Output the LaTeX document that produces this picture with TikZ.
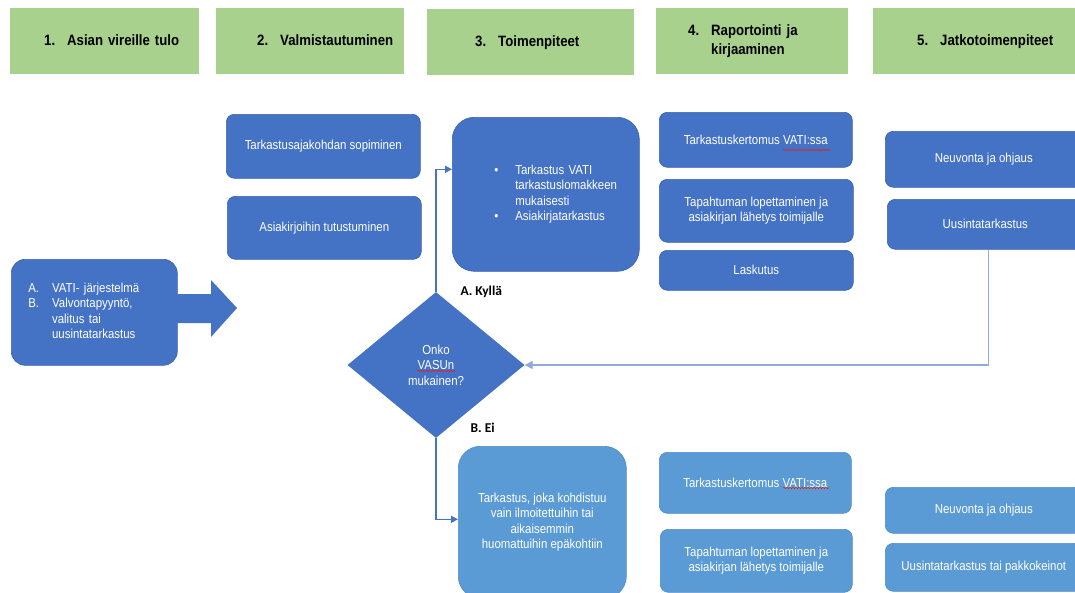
\documentclass[tikz,border=0pt]{standalone}
\usepackage{fontspec}
\setmainfont{Liberation Sans}[FakeStretch=0.88]
\newfontfamily\lblfont{Carlito}
\usetikzlibrary{shapes.geometric,arrows.meta,decorations.pathmorphing}

\definecolor{headgreen}{HTML}{A9D18E}
\definecolor{boxblue}{HTML}{4472C4}
\definecolor{boxedge}{HTML}{3A62AC}
\definecolor{lightblue}{HTML}{5B9BD5}
\definecolor{lightedge}{HTML}{4F8CC6}
\definecolor{linkblue}{HTML}{4472C4}
\definecolor{backblue}{HTML}{8FAADC}
\definecolor{spellred}{HTML}{E02020}

\tikzset{
  head/.style={rectangle, fill=headgreen, anchor=north west, inner sep=0pt,
    minimum height=66pt, align=left, font=\fontsize{15}{19}\selectfont\bfseries},
  task/.style={rectangle, rounded corners=8pt, fill=boxblue, draw=boxedge,
    line width=0.6pt, anchor=north west, text=white, align=center,
    inner sep=0pt, font=\fontsize{13}{15.5}\selectfont},
  subtask/.style={task, fill=lightblue, draw=lightedge},
  link/.style={draw=linkblue, line width=1.6pt, -{Triangle[length=7pt,width=7pt]}},
  backlink/.style={draw=backblue, line width=1.4pt, -{Triangle[length=8pt,width=8pt]}},
  answer/.style={anchor=west, font=\lblfont\fontsize{13.5}{15}\selectfont\bfseries},
  spell/.style={draw=spellred, line width=0.6pt, decorate,
    decoration={snake, amplitude=0.7pt, segment length=3pt}}
}

\begin{document}
\begin{tikzpicture}[x=1pt,y=-1pt]
  \useasboundingbox (0,0) rectangle (1075,592);
  \clip (0,0) rectangle (1075,592);

  % phase headers
  \node[head, text width=189pt] (h1) at (10,8)
    {\hspace*{34pt}\begin{tabular}{@{}l@{\hspace{12pt}}l@{}}1.&Asian vireille tulo\end{tabular}};
  \node[head, text width=188pt] (h2) at (216,8)
    {\hspace*{41pt}\begin{tabular}{@{}l@{\hspace{12pt}}l@{}}2.&Valmistautuminen\end{tabular}};
  \node[head, text width=207pt] (h3) at (427,9)
    {\hspace*{48pt}\begin{tabular}{@{}l@{\hspace{12pt}}l@{}}3.&Toimenpiteet\end{tabular}};
  \node[head, text width=192pt] (h4) at (656,8)
    {\hspace*{32pt}\begin{tabular}{@{}l@{\hspace{12pt}}l@{}}4.&Raportointi ja\\&kirjaaminen\end{tabular}};
  \node[head, text width=210pt] (h5) at (873,8)
    {\hspace*{44pt}\begin{tabular}{@{}l@{\hspace{12pt}}l@{}}5.&Jatkotoimenpiteet\end{tabular}};

  % 1. vireille tulo
  \node[task, minimum width=166pt, minimum height=106pt, text width=158pt,
    align=left, inner xsep=4pt, rounded corners=14pt] (src) at (11,259)
    {\hspace*{13pt}\begin{tabular}{@{}l@{\hspace{13pt}}l@{}}A.&VATI- järjestelmä\\B.&Valvontapyyntö,\\&valitus tai\\&uusintatarkastus\end{tabular}};
  \fill[boxblue] (177,294) -- (211,294) -- (211,280) -- (237,308)
    -- (211,337) -- (211,323) -- (177,323) -- cycle;

  % 2. valmistautuminen
  \node[task, minimum width=194pt, minimum height=64pt] (agree) at (226,114)
    {Tarkastusajakohdan sopiminen};
  \node[task, minimum width=194pt, minimum height=63pt] (docs) at (227,196)
    {Asiakirjoihin tutustuminen};

  % 3. toimenpiteet
  \node[task, minimum width=187pt, minimum height=154pt, text width=179pt,
    align=left, inner xsep=4pt, rounded corners=22pt] (act) at (452,117)
    {\hspace*{38pt}\begin{tabular}{@{}l@{\hspace{17pt}}l@{}}\textbullet&Tarkastus VATI\\&tarkastuslomakkeen\\&mukaisesti\\\textbullet&Asiakirjatarkastus\end{tabular}};
  \node[diamond, fill=boxblue, minimum width=177pt, minimum height=146pt,
    inner sep=0pt, text=white, align=center,
    font=\fontsize{13}{15.5}\selectfont] (dia) at (436,365)
    {Onko\\VASUn\\mukainen?};
  \node[answer] (yes) at (457,292) {A. Kyllä};
  \node[answer] (no) at (467,428) {B. Ei};
  \node[subtask, minimum width=168pt, minimum height=152pt,
    rounded corners=22pt] (partial) at (458,446)
    {Tarkastus, joka kohdistuu\\vain ilmoitettuihin tai\\aikaisemmin\\huomattuihin epäkohtiin};

  % 4. raportointi
  \node[task, minimum width=193pt, minimum height=55pt] (rep) at (659,112)
    {Tarkastuskertomus VATI:ssa};
  \node[task, minimum width=194pt, minimum height=63pt] (close) at (659,179)
    {Tapahtuman lopettaminen ja\\asiakirjan lähetys toimijalle};
  \node[task, minimum width=194pt, minimum height=40pt] (bill) at (659,250)
    {Laskutus};
  \node[subtask, minimum width=192pt, minimum height=61pt] (rep2) at (659,452)
    {Tarkastuskertomus VATI:ssa};
  \node[subtask, minimum width=192pt, minimum height=63pt] (close2) at (660,529)
    {Tapahtuman lopettaminen ja\\asiakirjan lähetys toimijalle};

  % 5. jatkotoimenpiteet
  \node[task, minimum width=197pt, minimum height=56pt] (advice) at (885,131)
    {Neuvonta ja ohjaus};
  \node[task, minimum width=196pt, minimum height=50pt] (recheck) at (887,199)
    {Uusintatarkastus};
  \node[subtask, minimum width=197pt, minimum height=46pt] (advice2) at (885,487)
    {Neuvonta ja ohjaus};
  \node[subtask, minimum width=197pt, minimum height=48pt] (force) at (885,543)
    {Uusintatarkastus tai pakkokeinot};

  % connectors
  \draw[link] (dia.north) |- ([yshift=25pt]act.west);
  \draw[link] (dia.south) |- ([yshift=3pt]partial.west);
  \draw[backlink] ([xshift=3pt]recheck.south) |- (dia.east);

  % spell check marks
  \draw[spell] (783,150) -- (830,150);
  \draw[spell] (783,488) -- (829,488);
  \draw[spell] (417,371) -- (455,371);
\end{tikzpicture}
\end{document}
